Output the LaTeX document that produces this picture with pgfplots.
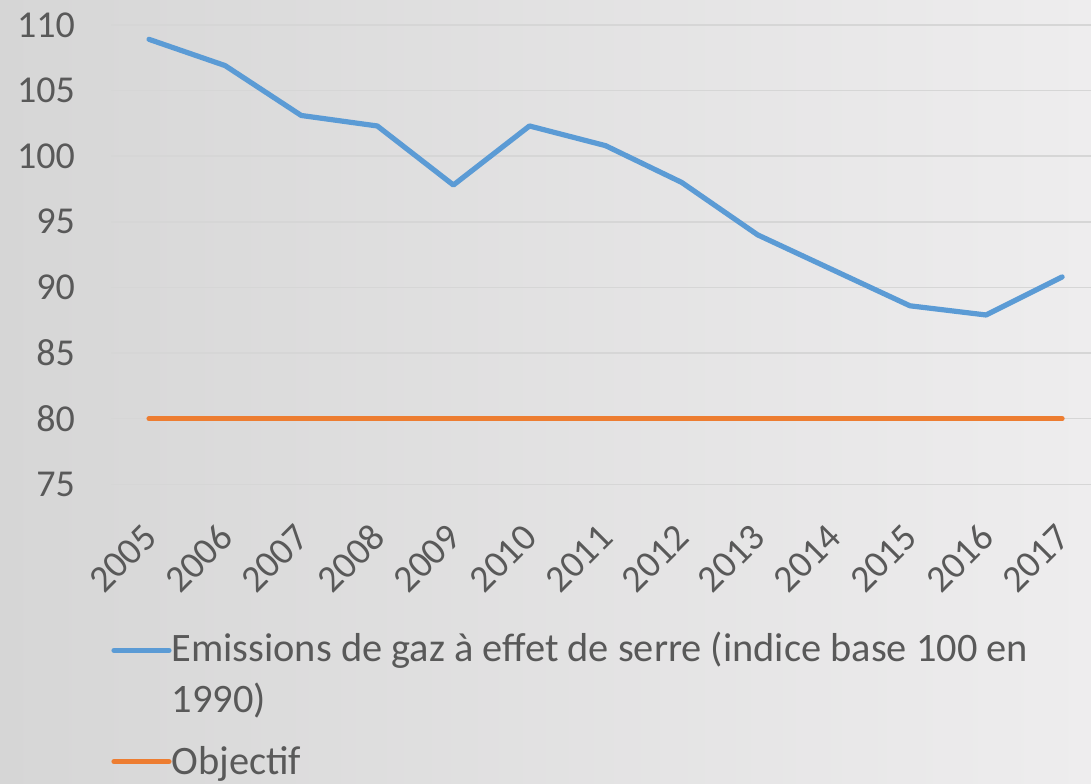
\documentclass[border=0pt]{standalone}
\usepackage{fontspec}
\setmainfont{Carlito}
\usepackage{pgfplots}
\pgfplotsset{compat=1.18}
\definecolor{bluel}{HTML}{5B9BD5}
\definecolor{orangel}{HTML}{ED7D31}
\definecolor{txt}{HTML}{595959}
\definecolor{gridc}{HTML}{D6D6D6}
\pgfplotsset{
  legup/.style={legend image code/.code={\draw[##1] (0pt,11.5pt) -- (27.5pt,11.5pt);}},
  legmid/.style={legend image code/.code={\draw[##1] (0pt,0pt) -- (27.5pt,0pt);}},
}
\begin{document}
\begin{tikzpicture}[x=1pt,y=1pt]
\shade[left color={rgb,255:red,214;green,214;blue,214}, right color={rgb,255:red,238;green,237;blue,238}] (0,0) rectangle (545.5,391.5);
\begin{axis}[
  at={(55.5pt,149.35pt)}, anchor=south west,
  scale only axis, width=490pt, height=229.7pt,
  xmin=-0.5, xmax=12.38, ymin=75, ymax=110,
  ytick={75,80,...,110},
  xtick={0,...,12},
  xticklabels={2005,2006,2007,2008,2009,2010,2011,2012,2013,2014,2015,2016,2017},
  axis line style={draw=none},
  major tick length=0pt,
  ymajorgrids, grid style={gridc, line width=0.8pt},
  /pgf/number format/assume math mode=true,
  /pgf/number format/1000 sep={},
  ticklabel style={font=\fontsize{19}{23}\selectfont, text=txt},
  yticklabel style={xshift=-14.5pt},
  xticklabel style={anchor=east, xshift=3pt, yshift=-21pt, rotate=45},
  legend style={draw=none, fill=none, at={(0,-0.311)}, anchor=north west,
    font=\fontsize{20.2}{25.5}\selectfont, text=txt, inner sep=0pt,
    nodes={inner xsep=0pt},
    row sep=11.5pt, cells={align=left}},
  legend cell align=left,
  clip=false,
]
\addplot[bluel, line width=2.6pt, line cap=round, line join=round, legup] coordinates {
(0,108.9) (1,106.9) (2,103.1) (3,102.3) (4,97.8) (5,102.3) (6,100.8) (7,98.0) (8,94.0) (9,91.3) (10,88.6) (11,87.9) (12,90.8)};
\addlegendentry{Emissions de gaz à effet de serre (indice base 100 en\\1990)}
\addplot[orangel, line width=2.6pt, line cap=round, legmid] coordinates {
(0,80) (1,80) (2,80) (3,80) (4,80) (5,80) (6,80) (7,80) (8,80) (9,80) (10,80) (11,80) (12,80)};
\addlegendentry{Objectif}
\end{axis}
\pgfresetboundingbox
\useasboundingbox (0,0) rectangle (545.5,391.5);
\end{tikzpicture}
\end{document}
